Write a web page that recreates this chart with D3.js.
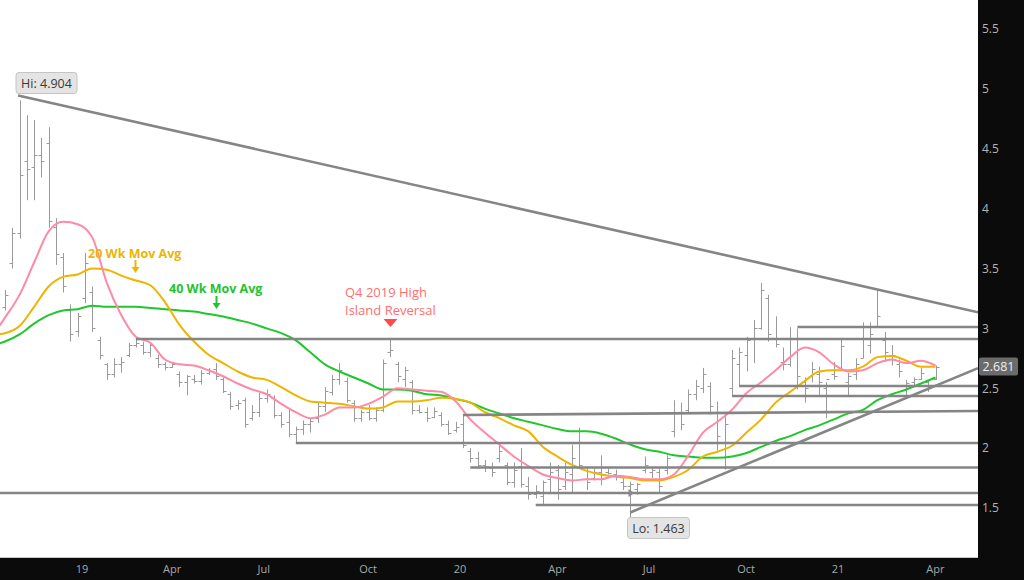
<!DOCTYPE html>
<html><head><meta charset="utf-8">
<script src="https://cdn.jsdelivr.net/npm/d3@7"></script>
<style>html,body{margin:0;padding:0;background:#fff;overflow:hidden}svg{display:block}</style>
</head><body><svg id="c" width="1024" height="580"></svg>
<script>
// ---------- DATA (weekly natural gas bars, first bar = week of 29 Oct 2018) ----------
const firstWeek = "2018-10-29";
const highs = [3.32,3.84,4.904,4.78,4.74,4.59,4.68,3.92,3.63,3.20,3.13,3.63,3.35,2.93,2.71,2.75,2.76,2.88,2.92,2.89,
  2.88,2.78,2.72,2.72,2.64,2.61,2.61,2.65,2.67,2.71,2.59,2.47,2.40,2.42,2.36,2.46,2.49,2.44,2.30,2.32,
  2.18,2.23,2.25,2.38,2.51,2.61,2.71,2.59,2.40,2.32,2.36,2.34,2.74,2.91,2.72,2.68,2.57,2.36,2.34,2.34,
  2.30,2.23,2.22,2.27,2.00,1.97,1.90,1.88,2.04,1.88,1.88,2.00,1.76,1.69,1.73,1.88,1.86,1.88,2.03,2.17,
  1.84,1.84,1.94,1.83,1.82,1.75,1.72,1.71,1.93,1.84,1.83,1.94,2.40,2.38,2.49,2.57,2.67,2.55,2.39,2.29,
  2.82,2.84,2.93,3.07,3.38,3.28,3.10,2.84,3.01,3.00,2.59,2.72,2.68,2.55,2.72,2.92,2.63,2.75,3.05,3.05,
  3.32,2.97,2.86,2.74,2.57,2.59,2.67,2.57,2.69];
const lows = [3.15,3.50,3.75,4.07,4.07,4.26,3.84,3.53,3.30,2.89,2.93,3.21,2.97,2.74,2.57,2.59,2.63,2.76,2.84,2.78,
  2.76,2.67,2.65,2.67,2.51,2.44,2.54,2.53,2.61,2.57,2.46,2.32,2.32,2.17,2.23,2.26,2.38,2.25,2.17,2.09,
  2.04,2.11,2.13,2.21,2.30,2.44,2.53,2.38,2.22,2.22,2.23,2.22,2.30,2.76,2.55,2.51,2.28,2.29,2.22,2.25,
  2.18,2.11,2.13,2.00,1.88,1.83,1.80,1.76,1.88,1.69,1.67,1.67,1.57,1.58,1.53,1.63,1.57,1.65,1.63,1.83,
  1.65,1.73,1.69,1.78,1.73,1.65,1.463,1.61,1.79,1.75,1.63,1.78,2.09,2.15,2.29,2.40,2.46,2.28,1.98,1.82,
  2.44,2.51,2.64,2.71,2.99,2.89,2.84,2.65,2.68,2.49,2.38,2.55,2.43,2.25,2.57,2.65,2.44,2.57,2.75,2.79,
  3.01,2.72,2.69,2.59,2.44,2.51,2.57,2.47,2.57];
const opens = [3.18,3.55,3.80,4.40,4.35,4.45,4.55,3.85,3.60,3.15,2.98,3.25,3.30,2.90,2.70,2.62,2.70,2.78,2.86,2.86,
  2.80,2.75,2.70,2.68,2.62,2.55,2.58,2.56,2.63,2.66,2.58,2.45,2.36,2.40,2.25,2.30,2.42,2.42,2.28,2.22,
  2.12,2.16,2.20,2.25,2.35,2.47,2.58,2.56,2.38,2.25,2.30,2.25,2.32,2.80,2.70,2.58,2.55,2.32,2.30,2.26,
  2.28,2.20,2.15,2.20,1.98,1.92,1.86,1.83,1.92,1.86,1.72,1.85,1.68,1.62,1.60,1.74,1.82,1.68,1.78,2.05,
  1.82,1.75,1.80,1.80,1.78,1.72,1.68,1.66,1.82,1.80,1.80,1.82,2.14,2.30,2.32,2.45,2.50,2.52,2.30,2.05,
  2.50,2.70,2.78,2.92,3.00,3.25,2.92,2.72,2.70,2.92,2.55,2.60,2.62,2.50,2.62,2.65,2.55,2.62,2.75,2.86,
  3.02,2.90,2.78,2.70,2.52,2.55,2.58,2.55,2.58];
const closes = [3.28,3.80,4.28,4.33,4.45,4.40,3.90,3.62,3.35,2.95,3.10,3.55,3.00,2.78,2.62,2.70,2.72,2.86,2.88,2.80,
  2.86,2.70,2.68,2.70,2.55,2.60,2.56,2.63,2.64,2.60,2.48,2.35,2.38,2.20,2.30,2.42,2.45,2.28,2.20,2.12,
  2.16,2.20,2.23,2.35,2.48,2.58,2.65,2.40,2.25,2.30,2.25,2.32,2.71,2.82,2.60,2.65,2.32,2.30,2.25,2.31,
  2.20,2.13,2.18,2.03,1.92,1.86,1.85,1.80,1.98,1.72,1.82,1.70,1.62,1.64,1.72,1.80,1.66,1.80,1.92,1.86,
  1.72,1.80,1.74,1.79,1.76,1.68,1.70,1.70,1.86,1.82,1.68,1.92,2.30,2.20,2.45,2.52,2.62,2.35,2.10,2.20,
  2.75,2.80,2.90,3.00,3.32,2.95,2.87,2.70,2.92,2.60,2.50,2.66,2.55,2.58,2.60,2.85,2.60,2.70,2.92,2.95,
  3.10,2.80,2.78,2.64,2.54,2.58,2.63,2.52,2.681];

// moving averages, sampled at week -1 and every second week from week 0
const maWeeks = [-1].concat(d3.range(0, 129, 2));
const ma10 = [3.00,3.09,3.28,3.55,3.81,3.89,3.87,3.76,3.38,3.11,2.93,2.88,2.74,2.70,2.69,2.65,2.60,2.54,2.49,2.45,
  2.37,2.30,2.25,2.28,2.34,2.34,2.37,2.43,2.50,2.49,2.48,2.47,2.39,2.24,2.13,2.03,1.93,1.85,1.78,1.75,
  1.73,1.74,1.74,1.77,1.76,1.74,1.74,1.78,1.94,2.13,2.22,2.32,2.46,2.55,2.65,2.76,2.84,2.80,2.70,2.64,
  2.65,2.71,2.74,2.71,2.73,2.69];
const ma20 = [2.95,2.96,3.02,3.18,3.35,3.43,3.45,3.50,3.49,3.44,3.40,3.36,3.22,3.03,2.89,2.78,2.71,2.64,2.59,2.57,
  2.51,2.44,2.39,2.38,2.37,2.35,2.33,2.34,2.39,2.39,2.40,2.42,2.41,2.38,2.30,2.25,2.19,2.14,2.01,1.93,
  1.86,1.81,1.78,1.76,1.75,1.73,1.73,1.76,1.82,1.93,1.97,2.02,2.13,2.24,2.38,2.47,2.56,2.64,2.65,2.65,
  2.68,2.76,2.77,2.73,2.68,2.68];
const ma40 = [2.87,2.89,2.95,3.04,3.11,3.15,3.16,3.19,3.18,3.18,3.18,3.17,3.16,3.15,3.14,3.12,3.10,3.07,3.04,3.00,
  2.96,2.90,2.80,2.70,2.64,2.59,2.54,2.49,2.49,2.48,2.45,2.44,2.41,2.38,2.33,2.29,2.25,2.22,2.19,2.16,
  2.14,2.14,2.12,2.08,2.03,1.99,1.97,1.94,1.93,1.92,1.92,1.93,1.96,2.01,2.06,2.10,2.15,2.19,2.24,2.29,
  2.32,2.40,2.45,2.49,2.54,2.59];

// support / resistance levels: [startWeek, startValue, endValue] (run to right edge)
const levelStart = [18, 109, 101, 100, 63, 40, 64, -1, 73];
const levelFrom  = [2.911, 3.011, 2.519, 2.435, 2.277, 2.043, 1.838, 1.625, 1.525];
const levelTo    = [2.911, 3.011, 2.519, 2.435, 2.310, 2.043, 1.838, 1.625, 1.525];
// trend lines: [week, value] -> right edge value
const downTrend = {week: 1.8, from: 4.945, to: 3.135};
const upTrend   = {week: 86, from: 1.463, to: 2.668};

const yTicks = [1.5, 2, 2.5, 3, 3.5, 4, 4.5, 5, 5.5];
const xTickWeeks = [10, 22, 35, 49, 62, 75, 88, 101, 114, 127];
const xTickLabels = ["19","Apr","Jul","Oct","20","Apr","Jul","Oct","21","Apr"];
const lastPrice = 2.681;

// ---------- CHART ----------
const svg = d3.select("#c");
const W = 1024, H = 580, plotR = 978, plotB = 557;
const start = new Date(firstWeek + "T00:00:00");
const wk = k => new Date(start.getTime() + k * 7 * 86400000);
const edgeWeek = 133.84;
const x = d3.scaleTime().domain([wk(-0.69), wk(edgeWeek)]).range([0, plotR]);
const y = d3.scaleLinear().domain([1.091, 5.742]).range([plotB, 0]);
const px = k => Math.round(x(wk(k))) + 0.5;

svg.append("rect").attr("width", W).attr("height", H).attr("fill", "#fff");
svg.append("defs").append("clipPath").attr("id", "clip")
  .append("rect").attr("x", 0).attr("y", 0).attr("width", plotR).attr("height", plotB);
const g = svg.append("g").attr("clip-path", "url(#clip)");

// bars
const bars = g.append("g").attr("stroke", "#9a9a9a").attr("stroke-width", 1).attr("fill", "none");
highs.forEach((h, k) => {
  const cx = px(k);
  bars.append("line").attr("x1", cx).attr("x2", cx).attr("y1", y(h)).attr("y2", y(lows[k]));
  bars.append("line").attr("x1", cx - 3).attr("x2", cx).attr("y1", Math.round(y(opens[k])) + 0.5).attr("y2", Math.round(y(opens[k])) + 0.5);
  bars.append("line").attr("x1", cx).attr("x2", cx + 3).attr("y1", Math.round(y(closes[k])) + 0.5).attr("y2", Math.round(y(closes[k])) + 0.5);
});

// moving averages
const maLine = d3.line().x(d => x(wk(d[0]))).y(d => y(d[1])).curve(d3.curveMonotoneX);
[[ma40, "#1fc72c"], [ma20, "#efb400"], [ma10, "#ff8aa6"]].forEach(([vals, col]) => {
  g.append("path").datum(maWeeks.map((w, i) => [w, vals[i]]))
    .attr("d", maLine).attr("fill", "none").attr("stroke", col).attr("stroke-width", 2);
});

// levels and trend lines
const lv = g.append("g").attr("stroke", "#858585").attr("stroke-width", 2.6).attr("fill", "none");
levelStart.forEach((s, i) => {
  lv.append("line").attr("x1", x(wk(s))).attr("x2", plotR)
    .attr("y1", y(levelFrom[i])).attr("y2", y(levelTo[i]));
});
[downTrend, upTrend].forEach(t => {
  lv.append("line").attr("x1", x(wk(t.week))).attr("y1", y(t.from))
    .attr("x2", plotR).attr("y2", y(t.to));
});

// Hi / Lo labels
function tag(txt, cx, cy, w) {
  const gg = svg.append("g");
  gg.append("rect").attr("x", cx - w / 2).attr("y", cy - 10.5).attr("width", w).attr("height", 21)
    .attr("rx", 3).attr("fill", "#e4e4e4").attr("stroke", "#c4c4c4").attr("stroke-width", 1);
  gg.append("text").attr("x", cx).attr("y", cy + 4.5).attr("text-anchor", "middle")
    .attr("font-family", "Open Sans").attr("font-size", 12.5).attr("fill", "#3a3a3a").text(txt);
}
tag("Hi: 4.904", 46.5, 83, 61);
svg.append("line").attr("x1", px(86)).attr("x2", px(86)).attr("y1", y(1.463)).attr("y2", 518)
  .attr("stroke", "#8a8a8a").attr("stroke-width", 1);
svg.append("path").attr("d", `M${px(86) - 2},${y(1.625) - 4}L${px(86) + 4},${y(1.625)}L${px(86) - 2},${y(1.625) + 4}Z`)
  .attr("fill", "#8a8a8a");
tag("Lo: 1.463", 658.5, 528, 62);

// annotations
const font = "Open Sans";
svg.append("text").attr("x", 88).attr("y", 257.5).attr("font-family", font).attr("font-weight", "bold")
  .attr("font-size", 12.5).attr("fill", "#ebb500").text("20 Wk Mov Avg");
svg.append("text").attr("x", 169).attr("y", 293).attr("font-family", font).attr("font-weight", "bold")
  .attr("font-size", 12.5).attr("fill", "#22c42c").text("40 Wk Mov Avg");
function arrow(cx, y0, y1, col) {
  svg.append("line").attr("x1", cx).attr("x2", cx).attr("y1", y0).attr("y2", y1 - 5)
    .attr("stroke", col).attr("stroke-width", 2);
  svg.append("path").attr("d", `M${cx - 4},${y1 - 6}L${cx + 4},${y1 - 6}L${cx},${y1}Z`).attr("fill", col);
}
arrow(135.5, 260, 273, "#ebb500");
arrow(216.5, 296, 309, "#22c42c");
svg.append("text").attr("x", 345).attr("y", 297).attr("font-family", font).attr("font-size", 13)
  .attr("fill", "#ff6e6e").text("Q4 2019 High");
svg.append("text").attr("x", 345).attr("y", 315).attr("font-family", font).attr("font-size", 13)
  .attr("fill", "#ff6e6e").text("Island Reversal");
svg.append("path").attr("d", `M${px(53) - 7},319L${px(53) + 7},319L${px(53)},327Z`).attr("fill", "#ff4a4a");

// axis backgrounds
svg.append("rect").attr("x", plotR).attr("y", 0).attr("width", W - plotR).attr("height", H).attr("fill", "#0b0b0b");
svg.append("rect").attr("x", 0).attr("y", plotB).attr("width", W).attr("height", H - plotB).attr("fill", "#0b0b0b");
svg.append("line").attr("x1", 0).attr("x2", plotR).attr("y1", plotB + 0.5).attr("y2", plotB + 0.5)
  .attr("stroke", "#c8c8c8").attr("stroke-width", 1);

// y axis
const yAxis = svg.append("g").attr("transform", `translate(${plotR + 1},0)`)
  .call(d3.axisRight(y).tickValues(yTicks).tickSize(0).tickPadding(3).tickFormat(d3.format("~g")));
yAxis.select(".domain").remove();
yAxis.selectAll("text").attr("font-family", font).attr("font-size", 12).attr("fill", "#b4b4b4");

// x axis
const xAxis = svg.append("g").attr("transform", `translate(0,${plotB})`)
  .call(d3.axisBottom(x).tickValues(xTickWeeks.map(wk)).tickSize(0).tickPadding(8)
    .tickFormat((d, i) => xTickLabels[i]));
xAxis.select(".domain").remove();
xAxis.selectAll("text").attr("font-family", font).attr("font-size", 11).attr("fill", "#a8a8a8")
  .attr("text-anchor", "start").attr("dx", -2.5);

// last price tag
const lp = svg.append("g");
lp.append("rect").attr("x", plotR + 1).attr("y", y(lastPrice) - 9).attr("width", 39).attr("height", 18)
  .attr("rx", 2).attr("fill", "#6b6b6b");
lp.append("text").attr("x", plotR + 20.5).attr("y", y(lastPrice) + 4.5).attr("text-anchor", "middle")
  .attr("font-family", font).attr("font-size", 12.5).attr("fill", "#f0f0f0").text(lastPrice.toFixed(3));
</script>
</body></html>
